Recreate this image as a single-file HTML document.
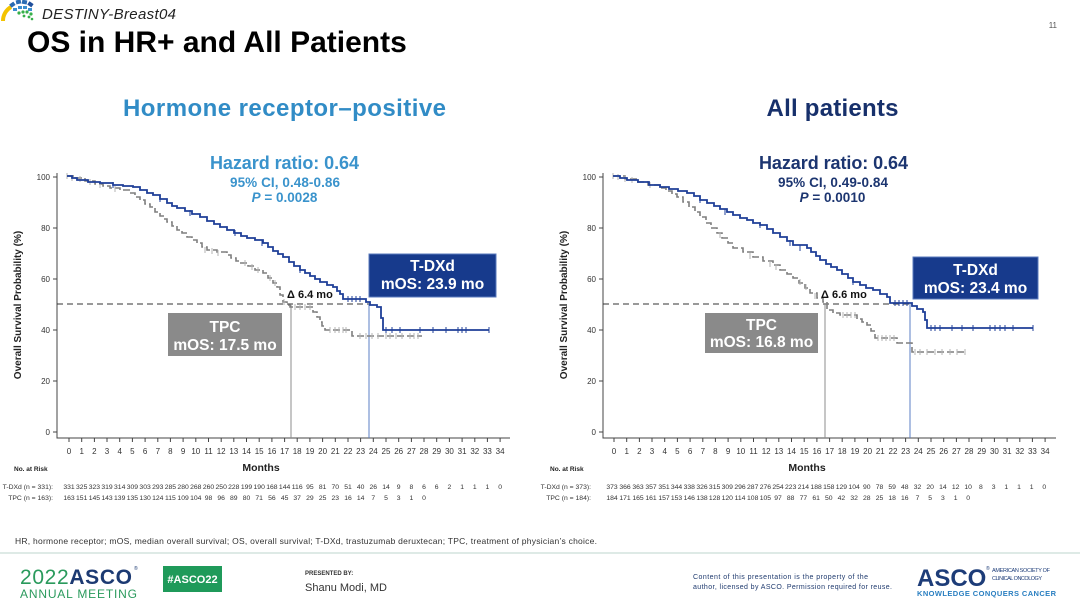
<!DOCTYPE html>
<html>
<head>
<meta charset="utf-8">
<style>
  html,body{margin:0;padding:0;background:#fff;}
  svg{display:block;}
</style>
</head>
<body>
<svg width="1080" height="608" viewBox="0 0 1080 608" xmlns="http://www.w3.org/2000/svg" font-family="'Liberation Sans', Arial, sans-serif">
  <rect x="0" y="0" width="1080" height="608" fill="#fff"/>

  <!-- top-left logo -->
  <g>
    <path d="M3,21 A16,16 0 0 1 11,7" stroke="#f3c300" stroke-width="4" fill="none"/>
    <g fill="#2a6cb3">
      <rect x="10" y="3" width="5" height="4" transform="rotate(-35 12 5)"/>
      <rect x="16" y="0" width="5" height="4" transform="rotate(-12 18 2)"/>
      <rect x="22" y="0" width="5" height="4" transform="rotate(10 24 2)"/>
      <rect x="28" y="2" width="5" height="4" transform="rotate(35 30 4)" fill="#1f4f9c"/>
      <rect x="13" y="8" width="4" height="3" fill="#3c8fd0"/>
      <rect x="18" y="6" width="4" height="3" fill="#3c8fd0"/>
      <rect x="23" y="6" width="4" height="3" fill="#3c8fd0"/>
      <rect x="28" y="8" width="4" height="3" fill="#3c8fd0"/>
    </g>
    <g fill="#36b04a">
      <circle cx="19" cy="13" r="1.6"/><circle cx="23" cy="12" r="1.6"/><circle cx="27" cy="12" r="1.6"/>
      <circle cx="31" cy="14" r="1.6"/><circle cx="24" cy="16" r="1.4"/><circle cx="29" cy="17" r="1.4"/>
      <circle cx="32" cy="19" r="1.3"/>
    </g>
  </g>
  <text x="42" y="19" font-size="15" font-style="italic" fill="#222" textLength="134">DESTINY-Breast04</text>
  <text x="27" y="52" font-size="30" font-weight="bold" fill="#000">OS in HR+ and All Patients</text>
  <text x="1057" y="28" font-size="8" fill="#555" text-anchor="end">11</text>

  <!-- chart titles -->
  <text x="284.5" y="116" font-size="24" font-weight="bold" fill="#318cc6" text-anchor="middle" textLength="323">Hormone receptor–positive</text>
  <text x="832.5" y="116" font-size="24" font-weight="bold" fill="#17306b" text-anchor="middle" textLength="132">All patients</text>

  <!-- HR text left -->
  <text x="284.5" y="169" font-size="18" font-weight="bold" fill="#3a93cc" text-anchor="middle" textLength="149">Hazard ratio: 0.64</text>
  <text x="285" y="187" font-size="13.5" font-weight="bold" fill="#3a93cc" text-anchor="middle" textLength="110">95% CI, 0.48-0.86</text>
  <text x="284.5" y="202" font-size="13.5" font-weight="bold" fill="#3a93cc" text-anchor="middle"><tspan font-style="italic">P</tspan> = 0.0028</text>

  <!-- HR text right -->
  <text x="833.5" y="169" font-size="18" font-weight="bold" fill="#1c3570" text-anchor="middle" textLength="149">Hazard ratio: 0.64</text>
  <text x="833" y="187" font-size="13.5" font-weight="bold" fill="#1c3570" text-anchor="middle" textLength="110">95% CI, 0.49-0.84</text>
  <text x="832.5" y="202" font-size="13.5" font-weight="bold" fill="#1c3570" text-anchor="middle"><tspan font-style="italic">P</tspan> = 0.0010</text>

  <!-- ================= LEFT CHART ================= -->
  <g stroke="#444" stroke-width="1" fill="none">
    <path d="M57,173V438H510"/>
    <path d="M53,432H57M53,381H57M53,330H57M53,279H57M53,228H57M53,177H57"/>
    <path d="M69,438v4M81.7,438v4M94.4,438v4M107,438v4M119.7,438v4M132.4,438v4M145.1,438v4M157.8,438v4M170.4,438v4M183.1,438v4M195.8,438v4M208.5,438v4M221.2,438v4M233.8,438v4M246.5,438v4M259.2,438v4M271.9,438v4M284.6,438v4M297.2,438v4M309.9,438v4M322.6,438v4M335.3,438v4M348,438v4M360.6,438v4M373.3,438v4M386,438v4M398.7,438v4M411.4,438v4M424,438v4M436.7,438v4M449.4,438v4M462.1,438v4M474.8,438v4M487.4,438v4M500.1,438v4"/>
  </g>
  <g font-size="8" fill="#333" text-anchor="end">
    <text x="50" y="435">0</text><text x="50" y="384">20</text><text x="50" y="333">40</text>
    <text x="50" y="282">60</text><text x="50" y="231">80</text><text x="50" y="180">100</text>
  </g>
  <text font-size="8" fill="#333" text-anchor="middle" y="454"><tspan x="69">0</tspan><tspan x="81.7">1</tspan><tspan x="94.4">2</tspan><tspan x="107">3</tspan><tspan x="119.7">4</tspan><tspan x="132.4">5</tspan><tspan x="145.1">6</tspan><tspan x="157.8">7</tspan><tspan x="170.4">8</tspan><tspan x="183.1">9</tspan><tspan x="195.8">10</tspan><tspan x="208.5">11</tspan><tspan x="221.2">12</tspan><tspan x="233.8">13</tspan><tspan x="246.5">14</tspan><tspan x="259.2">15</tspan><tspan x="271.9">16</tspan><tspan x="284.6">17</tspan><tspan x="297.2">18</tspan><tspan x="309.9">19</tspan><tspan x="322.6">20</tspan><tspan x="335.3">21</tspan><tspan x="348">22</tspan><tspan x="360.6">23</tspan><tspan x="373.3">24</tspan><tspan x="386">25</tspan><tspan x="398.7">26</tspan><tspan x="411.4">27</tspan><tspan x="424">28</tspan><tspan x="436.7">29</tspan><tspan x="449.4">30</tspan><tspan x="462.1">31</tspan><tspan x="474.8">32</tspan><tspan x="487.4">33</tspan><tspan x="500.1">34</tspan></text>
  <text x="261" y="471" font-size="10.5" font-weight="bold" fill="#222" text-anchor="middle">Months</text>
  <text transform="translate(21,305) rotate(-90)" font-size="10" font-weight="bold" fill="#222" text-anchor="middle">Overall Survival Probability (%)</text>
  <text x="14" y="471" font-size="6.5" font-weight="bold" fill="#222">No. at Risk</text>
  <g font-size="6.8" fill="#333">
    <text x="53" y="489" text-anchor="end">T-DXd (n = 331):</text>
    <text x="53" y="500" text-anchor="end">TPC (n = 163):</text>
  </g>
  <text font-size="6.8" fill="#333" text-anchor="middle" y="489"><tspan x="69">331</tspan><tspan x="81.7">325</tspan><tspan x="94.4">323</tspan><tspan x="107">319</tspan><tspan x="119.7">314</tspan><tspan x="132.4">309</tspan><tspan x="145.1">303</tspan><tspan x="157.8">293</tspan><tspan x="170.4">285</tspan><tspan x="183.1">280</tspan><tspan x="195.8">268</tspan><tspan x="208.5">260</tspan><tspan x="221.2">250</tspan><tspan x="233.8">228</tspan><tspan x="246.5">199</tspan><tspan x="259.2">190</tspan><tspan x="271.9">168</tspan><tspan x="284.6">144</tspan><tspan x="297.2">116</tspan><tspan x="309.9">95</tspan><tspan x="322.6">81</tspan><tspan x="335.3">70</tspan><tspan x="348">51</tspan><tspan x="360.6">40</tspan><tspan x="373.3">26</tspan><tspan x="386">14</tspan><tspan x="398.7">9</tspan><tspan x="411.4">8</tspan><tspan x="424">6</tspan><tspan x="436.7">6</tspan><tspan x="449.4">2</tspan><tspan x="462.1">1</tspan><tspan x="474.8">1</tspan><tspan x="487.4">1</tspan><tspan x="500.1">0</tspan></text>
  <text font-size="6.8" fill="#333" text-anchor="middle" y="500"><tspan x="69">163</tspan><tspan x="81.7">151</tspan><tspan x="94.4">145</tspan><tspan x="107">143</tspan><tspan x="119.7">139</tspan><tspan x="132.4">135</tspan><tspan x="145.1">130</tspan><tspan x="157.8">124</tspan><tspan x="170.4">115</tspan><tspan x="183.1">109</tspan><tspan x="195.8">104</tspan><tspan x="208.5">98</tspan><tspan x="221.2">96</tspan><tspan x="233.8">89</tspan><tspan x="246.5">80</tspan><tspan x="259.2">71</tspan><tspan x="271.9">56</tspan><tspan x="284.6">45</tspan><tspan x="297.2">37</tspan><tspan x="309.9">29</tspan><tspan x="322.6">25</tspan><tspan x="335.3">23</tspan><tspan x="348">16</tspan><tspan x="360.6">14</tspan><tspan x="373.3">7</tspan><tspan x="386">5</tspan><tspan x="398.7">3</tspan><tspan x="411.4">1</tspan><tspan x="424">0</tspan></text>

  <!-- left reference lines -->
  <path d="M57,304H369" stroke="#333" stroke-width="1" stroke-dasharray="6,4" fill="none"/>
  <path d="M291,304V438" stroke="#8c8c8c" stroke-width="1" fill="none"/>
  <path d="M369,304V438" stroke="#5b7fc4" stroke-width="1" fill="none"/>

  <!-- left TPC curve -->
  <path d="M67,176 H75 V178 H85 V181 H95 V184 H103 V186 H110 V188 H120 V190 H130 V193 H135 V197 H140 V200 H145 V204 H150 V207 H155 V212 H160 V216 H164 V219 H167 V222 H172 V226 H177 V230 H182 V233 H187 V237 H192 V240 H197 V243 H202 V247 H207 V250 H217 V252 H227 V255 H231 V258 H236 V261 H240 V263 H248 V266 H255 V270 H263 V273 H268 V278 H273 V283 H277 V287 H280 V295 H283 V302 H287 V305 H290 V307 H313 V312 H317 V317 H320 V322 H322 V326 H325 V330 H352 V336 H422" stroke="#7f7f7f" stroke-width="1.6" fill="none" stroke-dasharray="7,3"/>
  <path d="M67,173v6M72,175v6M80,176v6M90,179v6M100,182v6M115,186v6M205,247v6M212,248v6M218,250v6M245,260v6M252,264v6M258,267v6M270,275v6M275,280v6M284,299v6M295,304v6M300,304v6M305,304v6M310,304v6M330,327v6M335,327v6M339,327v6M343,327v6M346,327v6M360,333v6M366,333v6M372,333v6M378,333v6M386,333v6M390,333v6M396,333v6M402,333v6M410,333v6M414,333v6M418,333v6" stroke="#b3b3b3" stroke-width="1" fill="none"/>

  <!-- left T-DXd curve -->
  <path d="M67,176 H72 V178 H77 V180 H88 V182 H100 V183 H113 V185 H123 V186 H133 V187 H140 V190 H147 V193 H153 V195 H160 V199 H167 V203 H172 V206 H177 V208 H185 V211 H192 V214 H200 V217 H207 V221 H214 V224 H220 V227 H227 V230 H234 V233 H241 V236 H247 V238 H255 V240 H263 V243 H268 V247 H273 V251 H278 V254 H283 V257 H289 V262 H294 V266 H300 V270 H305 V273 H310 V276 H315 V279 H320 V282 H327 V285 H333 V287 H337 V291 H340 V294 H343 V299 H366 V302 H370 V305 H377 V307 H381 V318 H383 V330 H489" stroke="#1f3f98" stroke-width="1.8" fill="none"/>
  <path d="M113,182v6M160,196v6M190,210v6M235,230v6M262,240v6M300,267v6M348,296v6M352,296v6M356,296v6M360,296v6M386,327v6M392,327v6M400,327v6M420,327v6M433,327v6M446,327v6M458,327v6M462,327v6M466,327v6M489,327v6" stroke="#1f3f98" stroke-width="1" fill="none"/>

  <!-- left boxes -->
  <rect x="369" y="254" width="127" height="43" fill="#173a8c" stroke="#5a79bd" stroke-width="1"/>
  <text x="432.5" y="271" font-size="15.5" font-weight="bold" fill="#fff" text-anchor="middle">T-DXd</text>
  <text x="432.5" y="289" font-size="15.5" font-weight="bold" fill="#fff" text-anchor="middle">mOS: 23.9 mo</text>
  <rect x="168" y="313" width="114" height="43" fill="#8a8a8a"/>
  <text x="225" y="332" font-size="15.5" font-weight="bold" fill="#fff" text-anchor="middle">TPC</text>
  <text x="225" y="350" font-size="15.5" font-weight="bold" fill="#fff" text-anchor="middle">mOS: 17.5 mo</text>
  <text x="287" y="298" font-size="11" font-weight="bold" fill="#111">Δ 6.4 mo</text>

  <!-- ================= RIGHT CHART ================= -->
  <g stroke="#444" stroke-width="1" fill="none">
    <path d="M603,173V438H1056"/>
    <path d="M599,432H603M599,381H603M599,330H603M599,279H603M599,228H603M599,177H603"/>
    <path d="M614,438v4M626.7,438v4M639.4,438v4M652,438v4M664.7,438v4M677.4,438v4M690.1,438v4M702.8,438v4M715.4,438v4M728.1,438v4M740.8,438v4M753.5,438v4M766.2,438v4M778.8,438v4M791.5,438v4M804.2,438v4M816.9,438v4M829.6,438v4M842.2,438v4M854.9,438v4M867.6,438v4M880.3,438v4M893,438v4M905.6,438v4M918.3,438v4M931,438v4M943.7,438v4M956.4,438v4M969,438v4M981.7,438v4M994.4,438v4M1007.1,438v4M1019.8,438v4M1032.4,438v4M1045.1,438v4"/>
  </g>
  <g font-size="8" fill="#333" text-anchor="end">
    <text x="596" y="435">0</text><text x="596" y="384">20</text><text x="596" y="333">40</text>
    <text x="596" y="282">60</text><text x="596" y="231">80</text><text x="596" y="180">100</text>
  </g>
  <text font-size="8" fill="#333" text-anchor="middle" y="454"><tspan x="614">0</tspan><tspan x="626.7">1</tspan><tspan x="639.4">2</tspan><tspan x="652">3</tspan><tspan x="664.7">4</tspan><tspan x="677.4">5</tspan><tspan x="690.1">6</tspan><tspan x="702.8">7</tspan><tspan x="715.4">8</tspan><tspan x="728.1">9</tspan><tspan x="740.8">10</tspan><tspan x="753.5">11</tspan><tspan x="766.2">12</tspan><tspan x="778.8">13</tspan><tspan x="791.5">14</tspan><tspan x="804.2">15</tspan><tspan x="816.9">16</tspan><tspan x="829.6">17</tspan><tspan x="842.2">18</tspan><tspan x="854.9">19</tspan><tspan x="867.6">20</tspan><tspan x="880.3">21</tspan><tspan x="893">22</tspan><tspan x="905.6">23</tspan><tspan x="918.3">24</tspan><tspan x="931">25</tspan><tspan x="943.7">26</tspan><tspan x="956.4">27</tspan><tspan x="969">28</tspan><tspan x="981.7">29</tspan><tspan x="994.4">30</tspan><tspan x="1007.1">31</tspan><tspan x="1019.8">32</tspan><tspan x="1032.4">33</tspan><tspan x="1045.1">34</tspan></text>
  <text x="807" y="471" font-size="10.5" font-weight="bold" fill="#222" text-anchor="middle">Months</text>
  <text transform="translate(567,305) rotate(-90)" font-size="10" font-weight="bold" fill="#222" text-anchor="middle">Overall Survival Probability (%)</text>
  <text x="550" y="471" font-size="6.5" font-weight="bold" fill="#222">No. at Risk</text>
  <g font-size="6.8" fill="#333">
    <text x="591" y="489" text-anchor="end">T-DXd (n = 373):</text>
    <text x="591" y="500" text-anchor="end">TPC (n = 184):</text>
  </g>
  <text font-size="6.8" fill="#333" text-anchor="middle" y="489"><tspan x="612">373</tspan><tspan x="625">366</tspan><tspan x="638">363</tspan><tspan x="651">357</tspan><tspan x="664">351</tspan><tspan x="676.5">344</tspan><tspan x="689.3">338</tspan><tspan x="702">326</tspan><tspan x="714.6">315</tspan><tspan x="727.3">309</tspan><tspan x="740">296</tspan><tspan x="752.7">287</tspan><tspan x="765.4">276</tspan><tspan x="778">254</tspan><tspan x="790.7">223</tspan><tspan x="803.4">214</tspan><tspan x="816.1">188</tspan><tspan x="828.8">158</tspan><tspan x="841.4">129</tspan><tspan x="854.1">104</tspan><tspan x="866.8">90</tspan><tspan x="879.5">78</tspan><tspan x="892.2">59</tspan><tspan x="904.8">48</tspan><tspan x="917.5">32</tspan><tspan x="930.2">20</tspan><tspan x="942.9">14</tspan><tspan x="955.6">12</tspan><tspan x="968.2">10</tspan><tspan x="980.9">8</tspan><tspan x="993.6">3</tspan><tspan x="1006.3">1</tspan><tspan x="1019">1</tspan><tspan x="1031.6">1</tspan><tspan x="1044.3">0</tspan></text>
  <text font-size="6.8" fill="#333" text-anchor="middle" y="500"><tspan x="612">184</tspan><tspan x="625">171</tspan><tspan x="638">165</tspan><tspan x="651">161</tspan><tspan x="664">157</tspan><tspan x="676.5">153</tspan><tspan x="689.3">146</tspan><tspan x="702">138</tspan><tspan x="714.6">128</tspan><tspan x="727.3">120</tspan><tspan x="740">114</tspan><tspan x="752.7">108</tspan><tspan x="765.4">105</tspan><tspan x="778">97</tspan><tspan x="790.7">88</tspan><tspan x="803.4">77</tspan><tspan x="816.1">61</tspan><tspan x="828.8">50</tspan><tspan x="841.4">42</tspan><tspan x="854.1">32</tspan><tspan x="866.8">28</tspan><tspan x="879.5">25</tspan><tspan x="892.2">18</tspan><tspan x="904.8">16</tspan><tspan x="917.5">7</tspan><tspan x="930.2">5</tspan><tspan x="942.9">3</tspan><tspan x="955.6">1</tspan><tspan x="968.2">0</tspan></text>

  <!-- right reference lines -->
  <path d="M603,304H910" stroke="#333" stroke-width="1" stroke-dasharray="6,4" fill="none"/>
  <path d="M825,304V438" stroke="#8c8c8c" stroke-width="1" fill="none"/>
  <path d="M910,304V438" stroke="#5b7fc4" stroke-width="1" fill="none"/>

  <!-- right TPC curve -->
  <path d="M613,176 H625 V179 H637 V182 H648 V185 H660 V188 H666 V191 H672 V194 H677 V197 H683 V202 H689 V207 H695 V212 H700 V217 H706 V223 H711 V228 H717 V233 H722 V238 H728 V243 H733 V248 H743 V252 H753 V257 H763 V261 H773 V265 H780 V270 H787 V274 H793 V278 H799 V283 H805 V288 H810 V293 H817 V298 H823 V302 H827 V310 H833 V313 H840 V315 H857 V319 H862 V322 H867 V325 H871 V331 H875 V338 H897 V343 H912 V352 H967" stroke="#7f7f7f" stroke-width="1.6" fill="none" stroke-dasharray="7,3"/>
  <path d="M613,173v6M618,174v6M625,176v6M632,177v6M650,182v6M720,232v6M750,253v6M770,261v6M776,264v6M800,279v6M806,284v6M815,293v6M843,312v6M847,312v6M851,312v6M855,312v6M878,335v6M882,335v6M886,335v6M890,335v6M894,335v6M915,349v6M920,349v6M927,349v6M935,349v6M942,349v6M950,349v6M957,349v6M965,349v6" stroke="#b3b3b3" stroke-width="1" fill="none"/>

  <!-- right T-DXd curve -->
  <path d="M613,176 H620 V178 H627 V180 H638 V182 H649 V185 H660 V187 H669 V189 H678 V191 H687 V193 H694 V196 H700 V200 H707 V203 H714 V206 H720 V209 H727 V212 H733 V215 H740 V218 H747 V220 H753 V223 H760 V225 H767 V229 H773 V233 H780 V237 H787 V241 H793 V245 H807 V248 H811 V252 H816 V256 H820 V260 H826 V264 H831 V267 H837 V270 H842 V274 H848 V278 H853 V282 H860 V285 H866 V288 H873 V290 H880 V294 H887 V297 H890 V303 H912 V306 H917 V309 H923 V312 H925 V320 H927 V328 H1033" stroke="#1f3f98" stroke-width="1.8" fill="none"/>
  <path d="M700,197v6M725,209v6M760,222v6M790,240v6M800,245v6M853,279v6M895,300v6M899,300v6M903,300v6M907,300v6M931,325v6M935,325v6M940,325v6M952,325v6M962,325v6M973,325v6M990,325v6M995,325v6M1000,325v6M1005,325v6M1013,325v6M1033,325v6" stroke="#1f3f98" stroke-width="1" fill="none"/>

  <!-- right boxes -->
  <rect x="913" y="257" width="125" height="42" fill="#173a8c" stroke="#5a79bd" stroke-width="1"/>
  <text x="975.5" y="275" font-size="15.5" font-weight="bold" fill="#fff" text-anchor="middle">T-DXd</text>
  <text x="975.5" y="293" font-size="15.5" font-weight="bold" fill="#fff" text-anchor="middle">mOS: 23.4 mo</text>
  <rect x="705" y="313" width="113" height="40" fill="#8a8a8a"/>
  <text x="761.5" y="330" font-size="15.5" font-weight="bold" fill="#fff" text-anchor="middle">TPC</text>
  <text x="761.5" y="347" font-size="15.5" font-weight="bold" fill="#fff" text-anchor="middle">mOS: 16.8 mo</text>
  <text x="821" y="298" font-size="11" font-weight="bold" fill="#111">Δ 6.6 mo</text>

  <!-- footer -->
  <text x="15" y="544" font-size="8.5" fill="#333" textLength="582">HR, hormone receptor; mOS, median overall survival; OS, overall survival; T-DXd, trastuzumab deruxtecan; TPC, treatment of physician’s choice.</text>
  <path d="M0,553H1080" stroke="#d3e4dd" stroke-width="1.5"/>

  <text x="20" y="584" font-size="21" textLength="112"><tspan fill="#2a9a5c">2022</tspan><tspan fill="#1c3a72" font-weight="bold">ASCO</tspan></text>
  <text x="134" y="570" font-size="5" fill="#1c3a72">®</text>
  <text x="20" y="598" font-size="12" fill="#2a9a5c" textLength="117">ANNUAL MEETING</text>
  <rect x="163" y="566" width="59" height="26" fill="#1f9a5a"/>
  <text x="192.5" y="583" font-size="11" font-weight="bold" fill="#fff" text-anchor="middle">#ASCO22</text>

  <text x="305" y="575" font-size="6" font-weight="bold" fill="#333">PRESENTED BY:</text>
  <text x="305" y="591" font-size="11" fill="#333">Shanu Modi, MD</text>

  <text x="693" y="579" font-size="7" fill="#1f3a6e" textLength="175">Content of this presentation is the property of the</text>
  <text x="693" y="589" font-size="7" fill="#1f3a6e" textLength="199">author, licensed by ASCO. Permission required for reuse.</text>

  <text x="917" y="586" font-size="24" font-weight="bold" fill="#1d3c78">ASCO</text>
  <text x="986" y="570" font-size="5" fill="#1d3c78">®</text>
  <text x="992" y="572" font-size="5.5" fill="#1d3c78" textLength="58">AMERICAN SOCIETY OF</text>
  <text x="992" y="580" font-size="5.5" fill="#1d3c78" textLength="50">CLINICAL ONCOLOGY</text>
  <text x="917" y="596" font-size="7.5" font-weight="bold" fill="#2a7fc1" textLength="139">KNOWLEDGE CONQUERS CANCER</text>
</svg>
</body>
</html>
